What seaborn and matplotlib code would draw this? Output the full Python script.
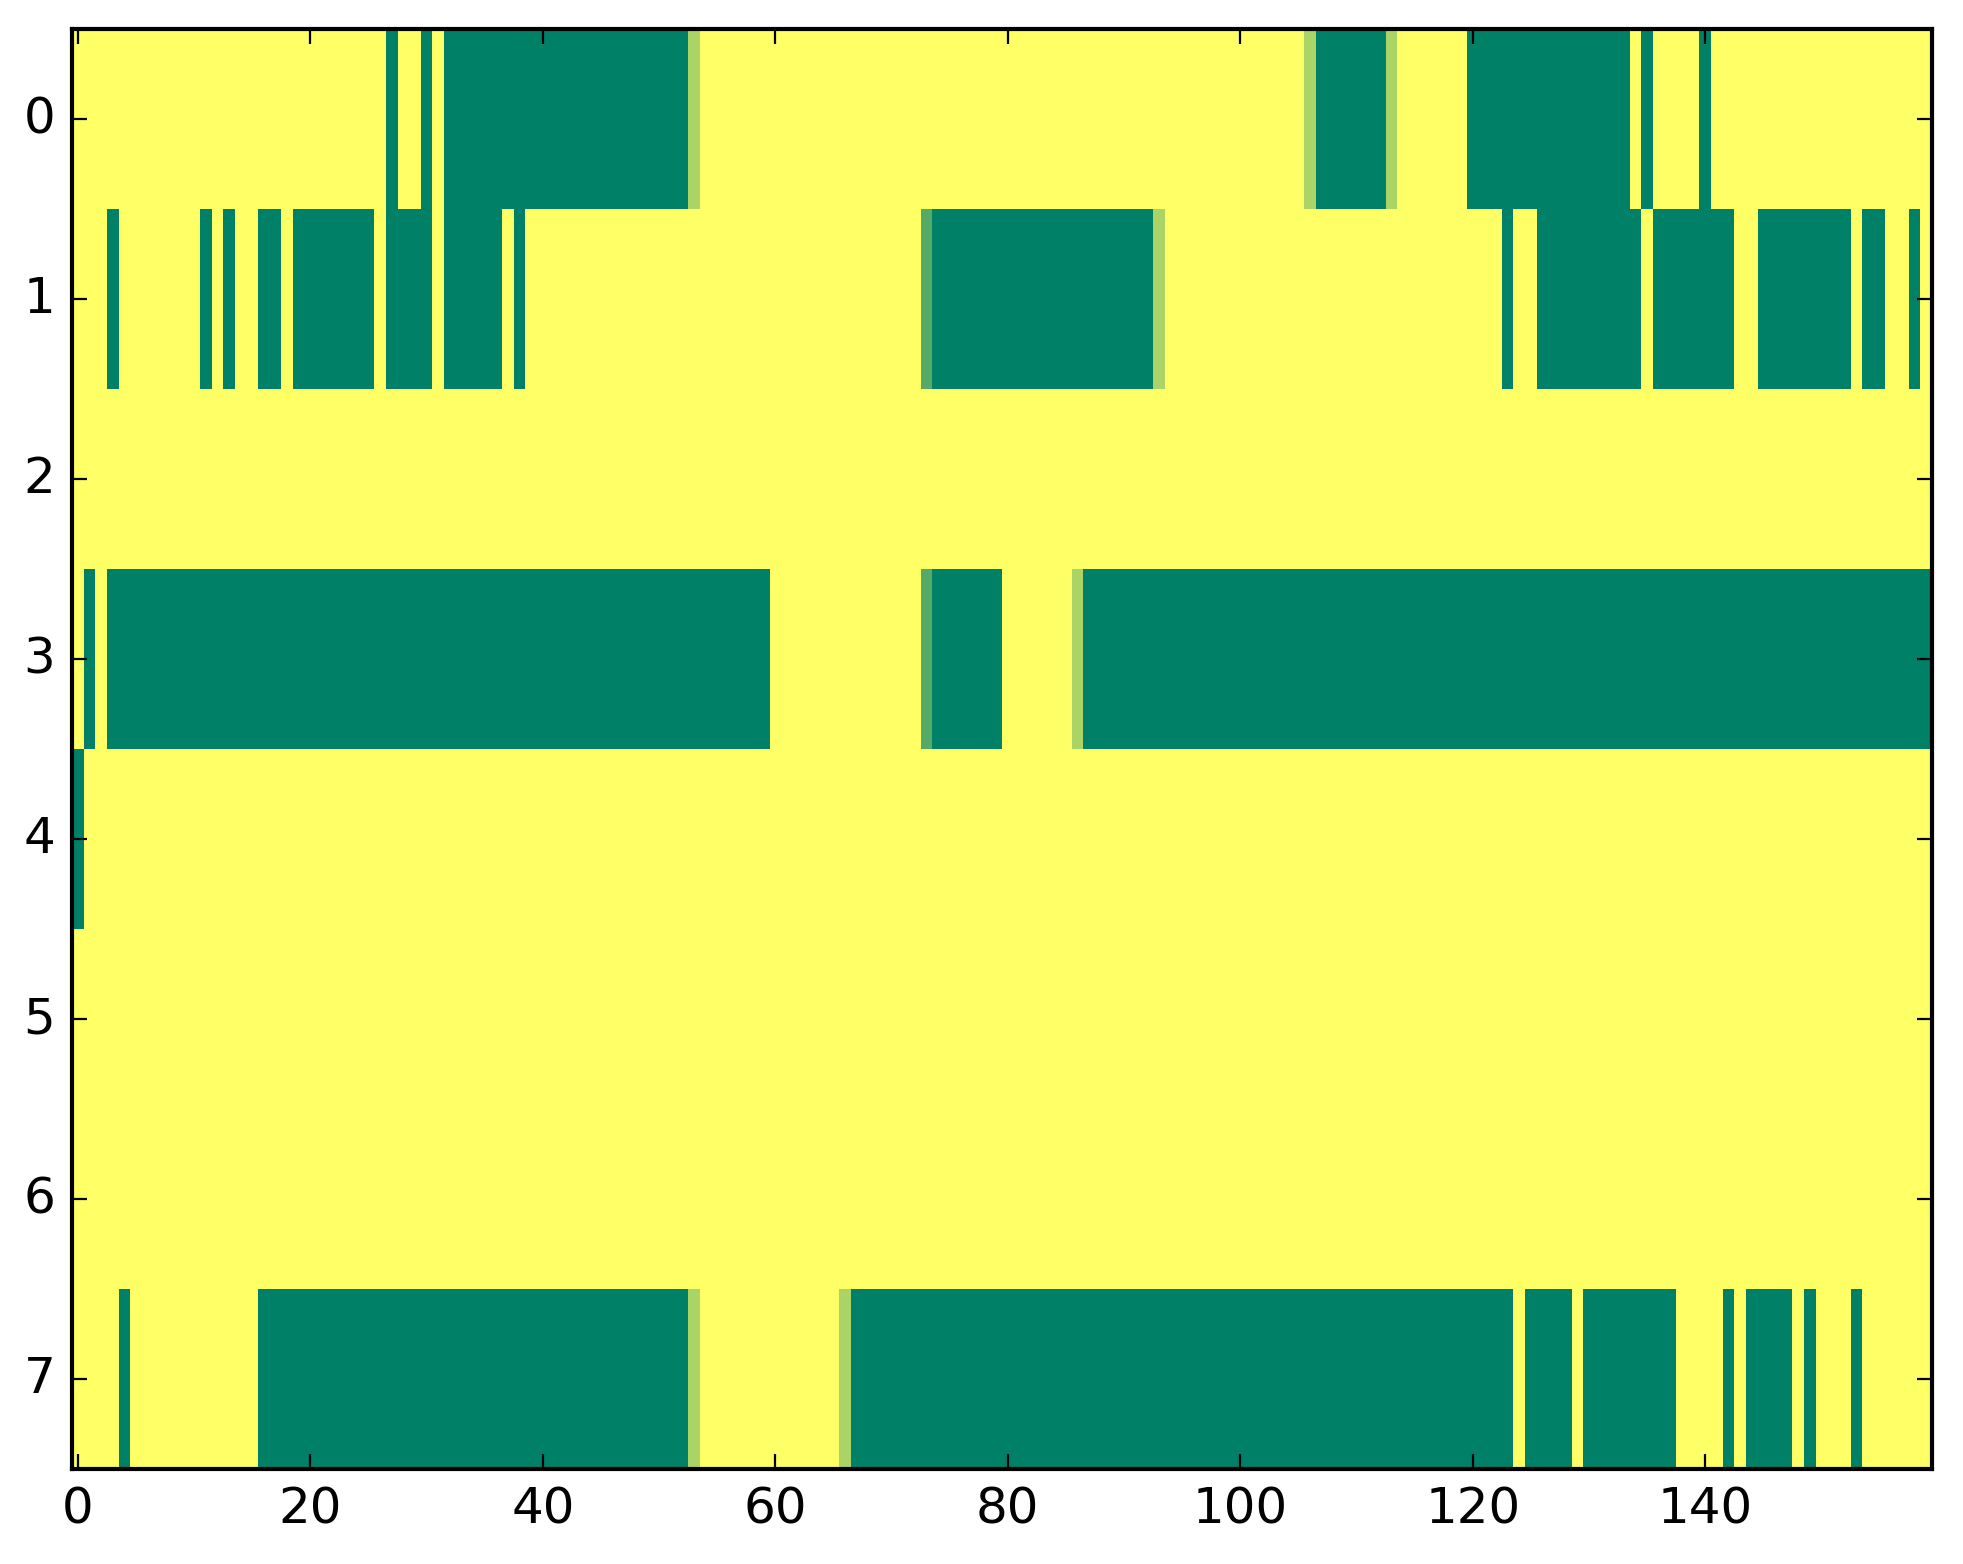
import numpy as np
import pandas as pd
import seaborn as sns
import matplotlib.pyplot as plt

n_cols = 160
row_labels = [0, 1, 2, 3, 4, 5, 6, 7]
x_ticks = [0, 20, 40, 60, 80, 100, 120, 140]

# every cell is 1.0 (yellow) unless listed: (first col, last col, value)
row0 = [(27, 27, 0), (30, 30, 0), (32, 52, 0), (53, 53, 2/3), (106, 106, 2/3),
        (107, 112, 0), (113, 113, 2/3), (120, 133, 0), (135, 135, 0), (140, 140, 0)]
row1 = [(3, 3, 0), (11, 11, 0), (13, 13, 0), (16, 17, 0), (19, 25, 0), (27, 30, 0),
        (32, 36, 0), (38, 38, 0), (73, 73, 1/3), (74, 92, 0), (93, 93, 2/3),
        (123, 123, 0), (126, 134, 0), (136, 142, 0), (145, 152, 0), (154, 155, 0),
        (158, 158, 0)]
row2 = []
row3 = [(1, 1, 0), (3, 59, 0), (73, 73, 1/3), (74, 79, 0), (86, 86, 2/3), (87, 159, 0)]
row4 = [(0, 0, 0)]
row5 = []
row6 = []
row7 = [(4, 4, 0), (16, 52, 0), (53, 53, 2/3), (66, 66, 2/3), (67, 123, 0),
        (125, 128, 0), (130, 137, 0), (142, 142, 0), (144, 147, 0), (149, 149, 0),
        (153, 153, 0)]

rows = [row0, row1, row2, row3, row4, row5, row6, row7]
grid = np.ones((len(rows), n_cols))
for r, spans in enumerate(rows):
    for a, b, v in spans:
        grid[r, a:b + 1] = v
df = pd.DataFrame(grid, index=row_labels)

fig = plt.figure(figsize=(1963 / 200, 1564 / 200), dpi=200)
ax = fig.add_axes([0.0367, 0.0607, 0.9475, 0.9207])
sns.heatmap(df, cmap="summer", vmin=0, vmax=1, cbar=False, ax=ax)

ax.set_xticks([t + 0.5 for t in x_ticks])
ax.set_xticklabels(x_ticks, rotation=0, fontsize=18)
ax.set_yticks([r + 0.5 for r in row_labels])
ax.set_yticklabels(row_labels, rotation=0, fontsize=18)
ax.set_xlabel("")
ax.set_ylabel("")
ax.tick_params(direction="in", length=5.4, width=0.8, pad=6,
               top=True, right=True, bottom=True, left=True, colors="black")
for spine in ax.spines.values():
    spine.set_visible(True)
    spine.set_linewidth(1.5)
    spine.set_color("black")

fig.savefig("out.png", dpi=200)
